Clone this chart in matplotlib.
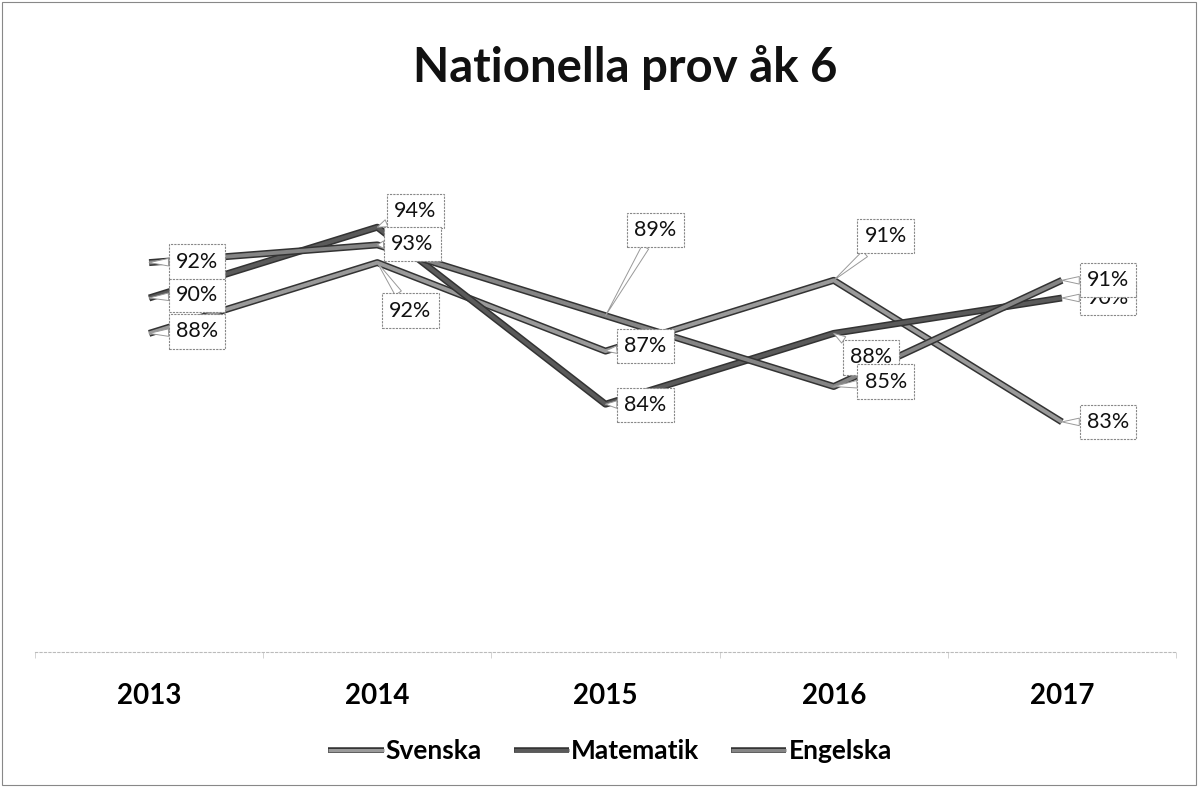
import numpy as np
import matplotlib
matplotlib.use("Agg")
import matplotlib.pyplot as plt
import matplotlib.patheffects as pe
from matplotlib.patches import Rectangle

years = ["2013", "2014", "2015", "2016", "2017"]
svenska = [88, 92, 87, 91, 83]
matematik = [90, 94, 84, 88, 90]
engelska = [92, 93, 89, 85, 91]

plt.rcParams["font.family"] = ["Lato", "DejaVu Sans"]

fig = plt.figure(figsize=(11.98, 7.87), dpi=100)
ax = fig.add_axes([35 / 1198, 1 - 652 / 787, 1141 / 1198, 531 / 787])

x = np.arange(len(years))

# label offsets in pixels (label centre relative to the point)
series = [
    ("Svenska", svenska, "#9a9a9a",
     [(48, -2), (33, 48), (40, -5), (52, -44), (46, 0)]),
    ("Matematik", matematik, "#5a5a5a",
     [(48, -3), (38, -16), (40, 1), (37, 24), (46, 0)]),
    ("Engelska", engelska, "#858585",
     [(48, -1), (35, -1), (50, -86), (52, -5), (46, 0)]),
]

for k, (name, vals, col, offs) in enumerate(series):
    ax.plot(x, vals, color=col, lw=2.8, label=name, solid_capstyle="butt",
            zorder=2 + k,
            path_effects=[pe.Stroke(linewidth=5, foreground="#333333"), pe.Normal()])

for k, (name, vals, col, offs) in enumerate(series):
    for xi, v, (dx, dy) in zip(x, vals, offs):
        ax.annotate(f"{v}%", xy=(xi, v), xytext=(dx, -dy), textcoords="offset pixels",
                    ha="center", va="center", fontsize=15.5, color="#111111",
                    zorder=10 + k,
                    bbox=dict(boxstyle="square,pad=0.33", fc="white", ec="#888888",
                              lw=0.8, ls=(0, (2, 1))),
                    arrowprops=dict(arrowstyle="wedge,tail_width=0.35", fc="white",
                                    ec="#999999", lw=0.7, shrinkA=0, shrinkB=0))

ax.set_xlim(-0.5, len(years) - 0.5)
ax.set_ylim(70, 100)
ax.set_xticks(x)
ax.set_xticklabels(years, fontsize=20, fontweight="bold")
ax.set_xticks(np.arange(-0.5, len(years)), minor=True)
ax.tick_params(axis="x", which="major", length=0, pad=22)
ax.tick_params(axis="x", which="minor", length=4, color="#cccccc")
ax.set_yticks([])
for s in ["top", "right", "left"]:
    ax.spines[s].set_visible(False)
ax.spines["bottom"].set_color("#bbbbbb")
ax.spines["bottom"].set_linestyle((0, (2, 2)))
ax.spines["bottom"].set_linewidth(0.8)

fig.text(625 / 1198, 1 - 68 / 787, "Nationella prov åk 6", ha="center", va="center",
         fontsize=34, fontweight="bold", color="#111111")

leg = fig.legend(loc="center", bbox_to_anchor=(610 / 1198, 1 - 751 / 787), ncol=3,
                 frameon=False, fontsize=19, handlelength=2.1, handletextpad=0.08,
                 columnspacing=1.2)
for t in leg.get_texts():
    t.set_fontweight("bold")
for h in leg.legend_handles:
    h.set_linewidth(2.2)
    h.set_path_effects([pe.Stroke(linewidth=4, foreground="#333333"), pe.Normal()])

fig.add_artist(Rectangle((0.002, 0.002), 0.996, 0.996, transform=fig.transFigure,
                         fill=False, ec="#888888", lw=0.8))

fig.savefig("out.png", dpi=100)
